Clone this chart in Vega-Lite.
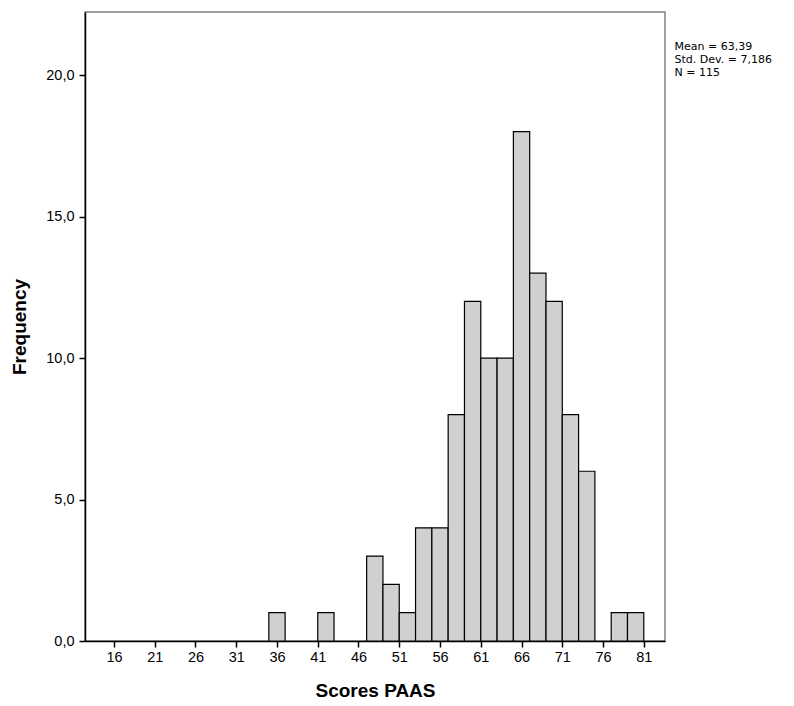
{
  "$schema": "https://vega.github.io/schema/vega-lite/v6.json",
  "autosize": {"type": "none"},
  "width": 580,
  "height": 629,
  "padding": {"left": 85, "top": 12, "right": 129, "bottom": 65},
  "background": "white",
  "config": {
    "view": {"stroke": "#808080", "strokeWidth": 1.5},
    "axis": {
      "domainColor": "black",
      "domainWidth": 1.5,
      "tickColor": "black",
      "tickWidth": 1.5,
      "tickSize": 6,
      "labelColor": "black",
      "labelFont": "Liberation Sans",
      "labelFontSize": 14.5,
      "titleFont": "Liberation Sans",
      "titleFontWeight": "bold",
      "titleColor": "black",
      "titleFontSize": 19,
      "grid": false
    }
  },
  "layer": [
    {
      "data": {
        "values": [
          {"bin_start": 35, "bin_end": 37, "count": 1},
          {"bin_start": 41, "bin_end": 43, "count": 1},
          {"bin_start": 47, "bin_end": 49, "count": 3},
          {"bin_start": 49, "bin_end": 51, "count": 2},
          {"bin_start": 51, "bin_end": 53, "count": 1},
          {"bin_start": 53, "bin_end": 55, "count": 4},
          {"bin_start": 55, "bin_end": 57, "count": 4},
          {"bin_start": 57, "bin_end": 59, "count": 8},
          {"bin_start": 59, "bin_end": 61, "count": 12},
          {"bin_start": 61, "bin_end": 63, "count": 10},
          {"bin_start": 63, "bin_end": 65, "count": 10},
          {"bin_start": 65, "bin_end": 67, "count": 18},
          {"bin_start": 67, "bin_end": 69, "count": 13},
          {"bin_start": 69, "bin_end": 71, "count": 12},
          {"bin_start": 71, "bin_end": 73, "count": 8},
          {"bin_start": 73, "bin_end": 75, "count": 6},
          {"bin_start": 77, "bin_end": 79, "count": 1},
          {"bin_start": 79, "bin_end": 81, "count": 1}
        ]
      },
      "mark": {"type": "bar", "fill": "#d0d0d0", "stroke": "black", "strokeWidth": 1.2},
      "encoding": {
        "x": {
          "field": "bin_start",
          "type": "quantitative",
          "scale": {"domain": [12.45, 83.6], "nice": false, "zero": false},
          "axis": {
            "title": "Scores PAAS",
            "values": [16, 21, 26, 31, 36, 41, 46, 51, 56, 61, 66, 71, 76, 81],
            "format": "d",
            "labelPadding": 3,
            "titlePadding": 18
          }
        },
        "x2": {"field": "bin_end"},
        "y": {
          "field": "count",
          "type": "quantitative",
          "scale": {"domain": [0, 22.23], "nice": false},
          "axis": {
            "title": "Frequency",
            "values": [0, 5, 10, 15, 20],
            "labelExpr": "replace(format(datum.value, '.1f'), '.', ',')",
            "labelPadding": 5,
            "titlePadding": 16
          }
        },
        "y2": {"datum": 0}
      }
    },
    {
      "data": {"values": [{"label": "Mean = 63,39\nStd. Dev. = 7,186\nN = 115"}]},
      "mark": {
        "type": "text",
        "align": "left",
        "baseline": "alphabetic",
        "lineBreak": "\n",
        "lineHeight": 13,
        "font": "DejaVu Sans",
        "fontSize": 11,
        "color": "black"
      },
      "encoding": {
        "text": {"field": "label", "type": "nominal"},
        "x": {"datum": 84.77, "type": "quantitative"},
        "y": {"datum": 20.9, "type": "quantitative"}
      }
    }
  ]
}
